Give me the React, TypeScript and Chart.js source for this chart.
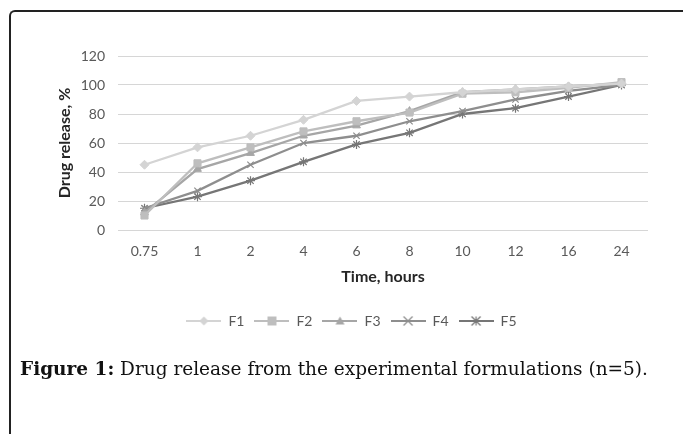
import React, { useEffect, useRef } from "react";
import { Chart, registerables } from "chart.js";

Chart.register(...registerables);

const categories = ["0.75", "1", "2", "4", "6", "8", "10", "12", "16", "24"];
const seriesNames = ["F1", "F2", "F3", "F4", "F5"];
const f1 = [45, 57, 65, 76, 89, 92, 95, 97, 99, 101];
const f2 = [10, 46, 57, 68, 75, 81, 94, 95, 98, 102];
const f3 = [12, 42, 53, 65, 72, 82, 95, 97, 99, 101];
const f4 = [15, 27, 45, 60, 65, 75, 82, 90, 96, 100];
const f5 = [15, 23, 34, 47, 59, 67, 80, 84, 92, 100];
const seriesColors = ["#d4d4d4", "#bebebe", "#a6a6a6", "#8e8e8e", "#767676"];
const markers = ["rectRot", "rect", "triangle", "crossRot", "star"];
const yTicks = [0, 20, 40, 60, 80, 100, 120];

function drawMarker(ctx: CanvasRenderingContext2D, style: string, x: number, y: number, r: number, color: string) {
  ctx.save();
  ctx.fillStyle = color;
  ctx.strokeStyle = color;
  ctx.lineWidth = 1.2;
  ctx.beginPath();
  if (style === "rectRot") {
    ctx.moveTo(x, y - r);
    ctx.lineTo(x + r, y);
    ctx.lineTo(x, y + r);
    ctx.lineTo(x - r, y);
    ctx.closePath();
    ctx.fill();
  } else if (style === "rect") {
    ctx.rect(x - r, y - r, 2 * r, 2 * r);
    ctx.fill();
  } else if (style === "triangle") {
    ctx.moveTo(x, y - r);
    ctx.lineTo(x + r, y + r * 0.8);
    ctx.lineTo(x - r, y + r * 0.8);
    ctx.closePath();
    ctx.fill();
  } else if (style === "crossRot") {
    ctx.moveTo(x - r, y - r);
    ctx.lineTo(x + r, y + r);
    ctx.moveTo(x + r, y - r);
    ctx.lineTo(x - r, y + r);
    ctx.stroke();
  } else {
    ctx.moveTo(x - r, y - r);
    ctx.lineTo(x + r, y + r);
    ctx.moveTo(x + r, y - r);
    ctx.lineTo(x - r, y + r);
    ctx.moveTo(x, y - r);
    ctx.lineTo(x, y + r);
    ctx.stroke();
  }
  ctx.restore();
}

const ICON_W = 35;

function legendIcon(i: number): HTMLCanvasElement {
  const c = document.createElement("canvas");
  c.width = ICON_W;
  c.height = 12;
  const ctx = c.getContext("2d")!;
  ctx.strokeStyle = seriesColors[i];
  ctx.lineWidth = 2.2;
  ctx.beginPath();
  ctx.moveTo(0, 6);
  ctx.lineTo(ICON_W, 6);
  ctx.stroke();
  drawMarker(ctx, markers[i], ICON_W / 2, 6, 4.5, seriesColors[i]);
  return c;
}

export default function App() {
  const ref = useRef<HTMLCanvasElement | null>(null);

  useEffect(() => {
    if (!ref.current) return;
    const data = [f1, f2, f3, f4, f5];
    const icons = seriesNames.map((_, i) => legendIcon(i));
    const chart = new Chart(ref.current, {
      type: "line",
      data: {
        labels: categories,
        datasets: seriesNames.map((name, i) => ({
          label: name,
          data: data[i],
          borderColor: seriesColors[i],
          backgroundColor: seriesColors[i],
          borderWidth: 2.3,
          pointStyle: markers[i] as any,
          pointRadius: i === 1 ? 5 : 4.5,
          pointBorderWidth: i >= 3 ? 1.2 : 1,
          pointBorderColor: seriesColors[i],
          pointBackgroundColor: seriesColors[i],
          tension: 0,
          fill: false,
        })),
      },
      options: {
        responsive: false,
        animation: false,
        layout: { padding: { left: 45, right: 34, top: 26, bottom: 22 } },
        plugins: {
          tooltip: { enabled: false },
          legend: {
            position: "bottom",
            labels: {
              usePointStyle: true,
              pointStyleWidth: ICON_W,
              padding: 10,
              color: "#595959",
              font: { family: "Lato", size: 14 },
              generateLabels: () =>
                seriesNames.map((name, i) => ({
                  text: name,
                  pointStyle: icons[i] as any,
                  fillStyle: seriesColors[i],
                  strokeStyle: seriesColors[i],
                  lineWidth: 0,
                  hidden: false,
                  datasetIndex: i,
                  fontColor: "#595959",
                })),
            },
          },
        },
        scales: {
          x: {
            offset: true,
            grid: { display: false, drawTicks: false },
            border: { display: false },
            ticks: { color: "#595959", font: { family: "Lato", size: 14 }, padding: 13, maxRotation: 0 },
            title: {
              display: true,
              text: "Time, hours",
              color: "#262626",
              font: { family: "Lato", size: 16, weight: "bold" },
              padding: { top: 0, bottom: 18 },
            },
            afterFit: (s: any) => {
              s.height = 74;
            },
          },
          y: {
            min: 0,
            max: 120,
            afterBuildTicks: (s: any) => {
              s.ticks = yTicks.map((v) => ({ value: v }));
            },
            grid: { color: "#d6d6d6", lineWidth: 1, drawTicks: false },
            border: { display: false },
            ticks: { color: "#595959", font: { family: "Lato", size: 14 }, padding: 13 },
            title: {
              display: true,
              text: "Drug release, %",
              color: "#262626",
              font: { family: "Lato", size: 16, weight: "bold" },
              padding: { top: 0, bottom: 0 },
            },
            afterFit: (s: any) => {
              s.width = 63;
            },
          },
        },
      },
    });
    return () => chart.destroy();
  }, []);

  return (
    <div style={{ position: "fixed", left: 0, top: 0, width: 683, height: 434, overflow: "hidden", background: "#fff" }}>
      <div
        style={{
          position: "absolute",
          left: 9,
          top: 10,
          width: 690,
          height: 440,
          borderTop: "2px solid #222",
          borderLeft: "2px solid #222",
          borderTopLeftRadius: 6,
          boxSizing: "border-box",
        }}
      />
      <canvas ref={ref} width={672} height={330} style={{ position: "absolute", left: 10, top: 30, width: 672, height: 330 }} />
      <div
        style={{
          position: "absolute",
          left: 20,
          top: 358,
          fontFamily: "'DejaVu Serif', serif",
          fontSize: 18.5,
          color: "#111",
          whiteSpace: "nowrap",
        }}
      >
        <b>Figure 1:</b> Drug release from the experimental formulations (n=5).
      </div>
    </div>
  );
}
